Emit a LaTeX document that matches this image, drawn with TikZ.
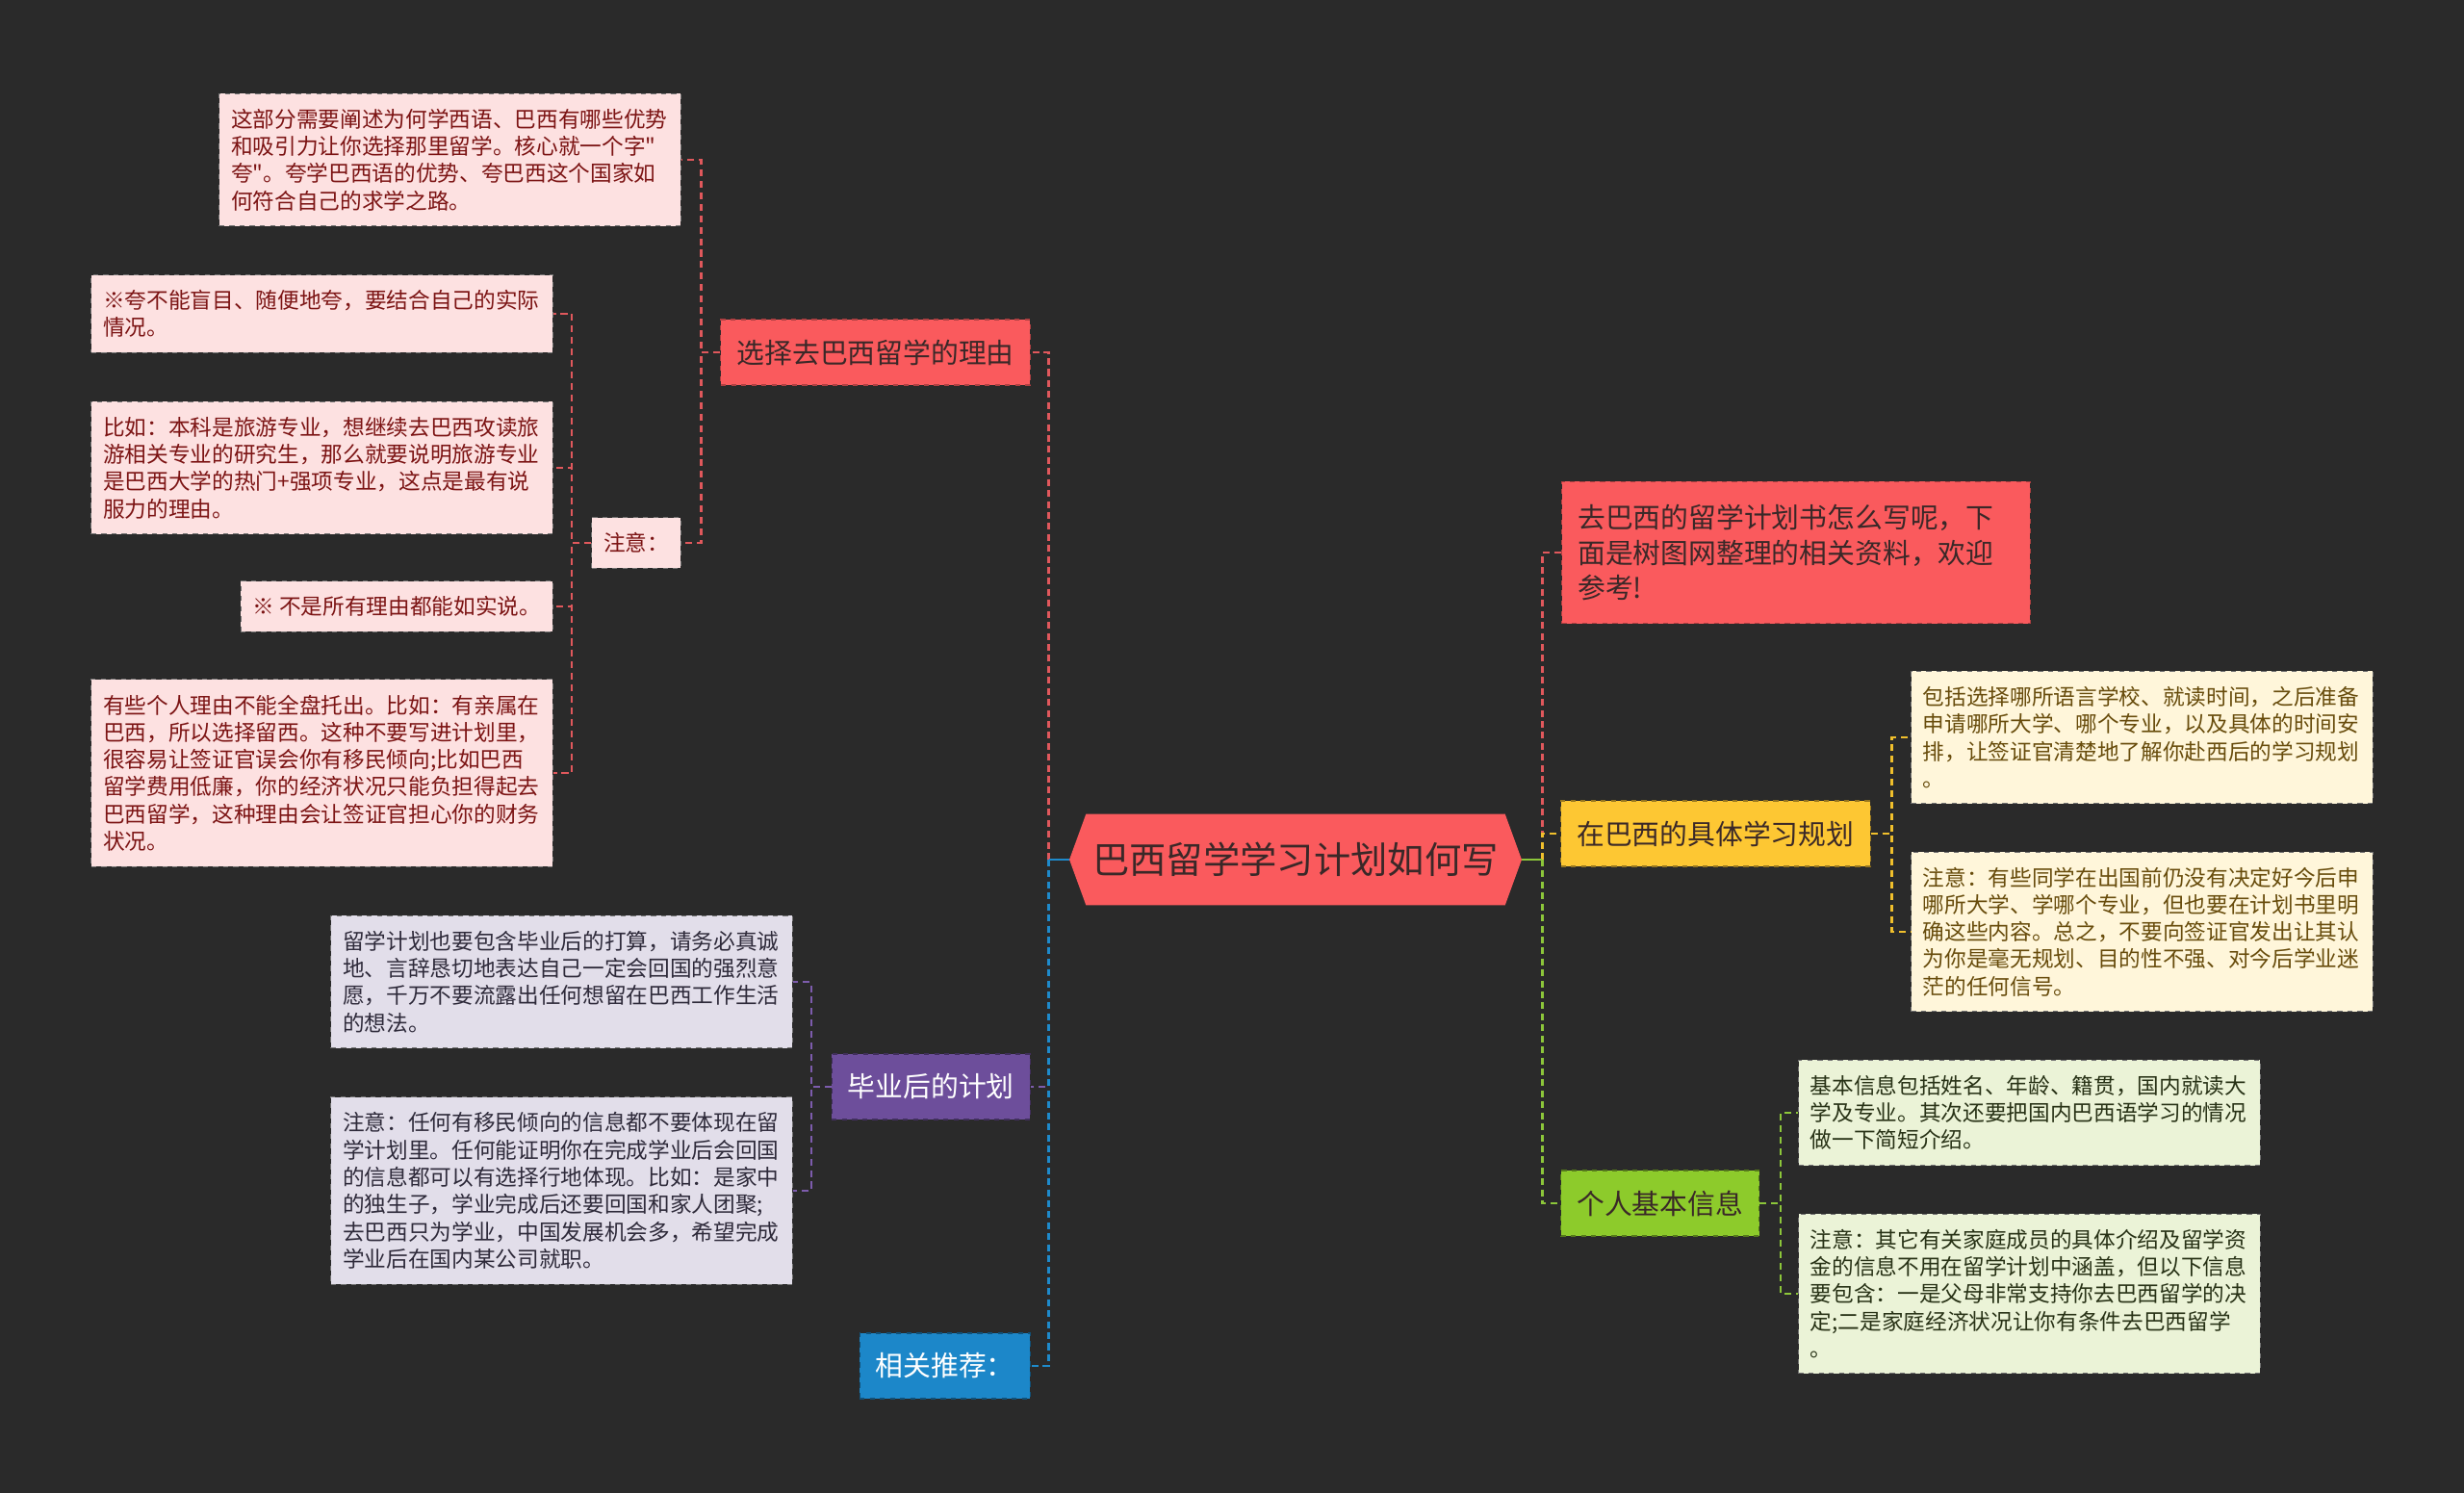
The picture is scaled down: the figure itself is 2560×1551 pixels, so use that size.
\documentclass[tikz,border=0pt]{standalone}
\usepackage{fontspec}
\newfontfamily\cjk{Noto Sans CJK SC}
\usetikzlibrary{positioning,calc,shapes.symbols}

\definecolor{bgdark}{HTML}{2A2A2A}
\definecolor{brred}{HTML}{FA5A5D}
\definecolor{brpurple}{HTML}{6D4E9B}
\definecolor{brblue}{HTML}{1C87C9}
\definecolor{bryellow}{HTML}{FDC733}
\definecolor{brgreen}{HTML}{8DCB2B}
\definecolor{darktext}{HTML}{3A2828}
\definecolor{pinkfill}{HTML}{FDE1E1}
\definecolor{pinktext}{HTML}{7C1414}
\definecolor{lilacfill}{HTML}{E2DEEA}
\definecolor{lilactext}{HTML}{2E2A3A}
\definecolor{creamfill}{HTML}{FFF6DA}
\definecolor{creamtext}{HTML}{684C0C}
\definecolor{mintfill}{HTML}{EBF3D7}
\definecolor{minttext}{HTML}{283216}
\definecolor{lnkred}{HTML}{E0585C}
\definecolor{lnkpurple}{HTML}{7D5CAD}
\definecolor{lnkblue}{HTML}{1E8ACB}
\definecolor{lnkyellow}{HTML}{F0BF2C}
\definecolor{lnkgreen}{HTML}{8CC63A}

\begin{document}
\begin{tikzpicture}[x=0.02cm, y=-0.02cm,
    box/.style={rectangle, dashed, line width=0.6pt, align=left},
    leaf/.style={box, inner xsep=7pt, inner ysep=9pt, font=\cjk\fontsize{12.9pt}{16.1pt}\selectfont},
    wide/.style={text width=259pt},
    pinkleaf/.style={leaf, fill=pinkfill, draw=black!55, text=pinktext},
    lilacleaf/.style={leaf, fill=lilacfill, draw=black!55, text=lilactext},
    creamleaf/.style={leaf, fill=creamfill, draw=black!55, text=creamtext},
    mintleaf/.style={leaf, fill=mintfill, draw=black!55, text=minttext},
    branch/.style={box, inner xsep=9.5pt, minimum height=38.7pt, text=darktext, font=\cjk\fontsize{16.4pt}{20.9pt}\selectfont},
    root/.style={shape=signal, signal to=east and west, signal pointer angle=140, fill=brred, text=darktext,
      inner xsep=4pt, minimum height=54pt, font=\cjk\fontsize{21.8pt}{26pt}\selectfont},
    link/.style={dash pattern=on 4pt off 2.5pt, line width=1.6pt},
    sublink/.style={dash pattern=on 4pt off 2.8pt, line width=1.25pt},
    stub/.style={line width=1.6pt}
  ]
    \fill[bgdark] (0,0) rectangle (2560,1551);

    \node[root] (root) at (1346,893) {巴西留学学习计划如何写};

    % left side
    \node[branch, fill=brred, draw=brred!70!black, anchor=east] (reason) at (1071,366) {选择去巴西留学的理由};
    \node[branch, fill=brpurple, draw=brpurple!60!black, text=white, anchor=east] (after) at (1071,1129) {毕业后的计划};
    \node[branch, fill=brblue, draw=brblue!60!black, text=white, anchor=east] (related) at (1071,1419) {相关推荐：};

    \node[pinkleaf, wide, anchor=east] (why) at (708,166) {这部分需要阐述为何学西语、巴西有哪些优势\\和吸引力让你选择那里留学。核心就一个字"\\夸"。夸学巴西语的优势、夸巴西这个国家如\\何符合自己的求学之路。};
    \node[pinkleaf, anchor=east] (note) at (708,564) {注意：};
    \node[pinkleaf, wide, anchor=east] (blind) at (575,326) {※夸不能盲目、随便地夸，要结合自己的实际\\情况。};
    \node[pinkleaf, wide, anchor=east] (major) at (575,486) {比如：本科是旅游专业，想继续去巴西攻读旅\\游相关专业的研究生，那么就要说明旅游专业\\是巴西大学的热门+强项专业，这点是最有说\\服力的理由。};
    \node[pinkleaf, anchor=east] (honest) at (575,630) {※ 不是所有理由都能如实说。};
    \node[pinkleaf, wide, anchor=east] (private) at (575,803) {有些个人理由不能全盘托出。比如：有亲属在\\巴西，所以选择留西。这种不要写进计划里，\\很容易让签证官误会你有移民倾向;比如巴西\\留学费用低廉，你的经济状况只能负担得起去\\巴西留学，这种理由会让签证官担心你的财务\\状况。};

    \node[lilacleaf, wide, anchor=east] (return) at (824,1020) {留学计划也要包含毕业后的打算，请务必真诚\\地、言辞恳切地表达自己一定会回国的强烈意\\愿，千万不要流露出任何想留在巴西工作生活\\的想法。};
    \node[lilacleaf, wide, anchor=east] (immig) at (824,1237) {注意：任何有移民倾向的信息都不要体现在留\\学计划里。任何能证明你在完成学业后会回国\\的信息都可以有选择行地体现。比如：是家中\\的独生子，学业完成后还要回国和家人团聚;\\去巴西只为学业，中国发展机会多，希望完成\\学业后在国内某公司就职。};

    % right side
    \node[branch, fill=brred, draw=brred!70!black, anchor=west, text width=258pt, minimum height=83.7pt] (intro) at (1622,574) {去巴西的留学计划书怎么写呢，下\\面是树图网整理的相关资料，欢迎\\参考!};
    \node[branch, fill=bryellow, draw=bryellow!60!black, anchor=west] (study) at (1621,866) {在巴西的具体学习规划};
    \node[branch, fill=brgreen, draw=brgreen!60!black, anchor=west] (basic) at (1621,1250) {个人基本信息};

    \node[creamleaf, wide, anchor=west] (school) at (1985,766) {包括选择哪所语言学校、就读时间，之后准备\\申请哪所大学、哪个专业，以及具体的时间安\\排，让签证官清楚地了解你赴西后的学习规划\\。};
    \node[creamleaf, wide, anchor=west] (plan) at (1985,968) {注意：有些同学在出国前仍没有决定好今后申\\哪所大学、学哪个专业，但也要在计划书里明\\确这些内容。总之，不要向签证官发出让其认\\为你是毫无规划、目的性不强、对今后学业迷\\茫的任何信号。};
    \node[mintleaf, wide, anchor=west] (info) at (1868,1156) {基本信息包括姓名、年龄、籍贯，国内就读大\\学及专业。其次还要把国内巴西语学习的情况\\做一下简短介绍。};
    \node[mintleaf, wide, anchor=west] (family) at (1868,1344) {注意：其它有关家庭成员的具体介绍及留学资\\金的信息不用在留学计划中涵盖，但以下信息\\要包含：一是父母非常支持你去巴西留学的决\\定;二是家庭经济状况让你有条件去巴西留学\\。};

    % trunks
    \coordinate (ltrunk) at ($(root.west)+(-21,0)$);
    \coordinate (rtrunk) at ($(root.east)+(21,0)$);
    \coordinate (reasontrunk) at ($(reason.west)+(-20,0)$);
    \coordinate (notetrunk) at ($(note.west)+(-20,0)$);
    \coordinate (aftertrunk) at ($(after.west)+(-21,0)$);
    \coordinate (studytrunk) at ($(study.east)+(22,0)$);
    \coordinate (basictrunk) at ($(basic.east)+(22,0)$);

    \draw[link, lnkred] (ltrunk) |- (reason.east);
    \draw[link, lnkpurple] (ltrunk) |- (after.east);
    \draw[link, lnkblue] (ltrunk) |- (related.east);
    \draw[stub, lnkblue] (root.west) -- (ltrunk);

    \draw[link, lnkred] (rtrunk) |- (intro.west);
    \draw[link, lnkyellow] (rtrunk) |- (study.west);
    \draw[link, lnkgreen] (rtrunk) |- (basic.west);
    \draw[stub, lnkgreen] (root.east) -- (rtrunk);

    \foreach \n in {why,note}
      \draw[sublink, lnkred] (reason.west) -- (reasontrunk) |- (\n.east);
    \foreach \n in {blind,major,honest,private}
      \draw[sublink, lnkred] (note.west) -- (notetrunk) |- (\n.east);
    \foreach \n in {return,immig}
      \draw[sublink, lnkpurple] (after.west) -- (aftertrunk) |- (\n.east);
    \foreach \n in {school,plan}
      \draw[sublink, lnkyellow] (study.east) -- (studytrunk) |- (\n.west);
    \foreach \n in {info,family}
      \draw[sublink, lnkgreen] (basic.east) -- (basictrunk) |- (\n.west);
\end{tikzpicture}
\end{document}
